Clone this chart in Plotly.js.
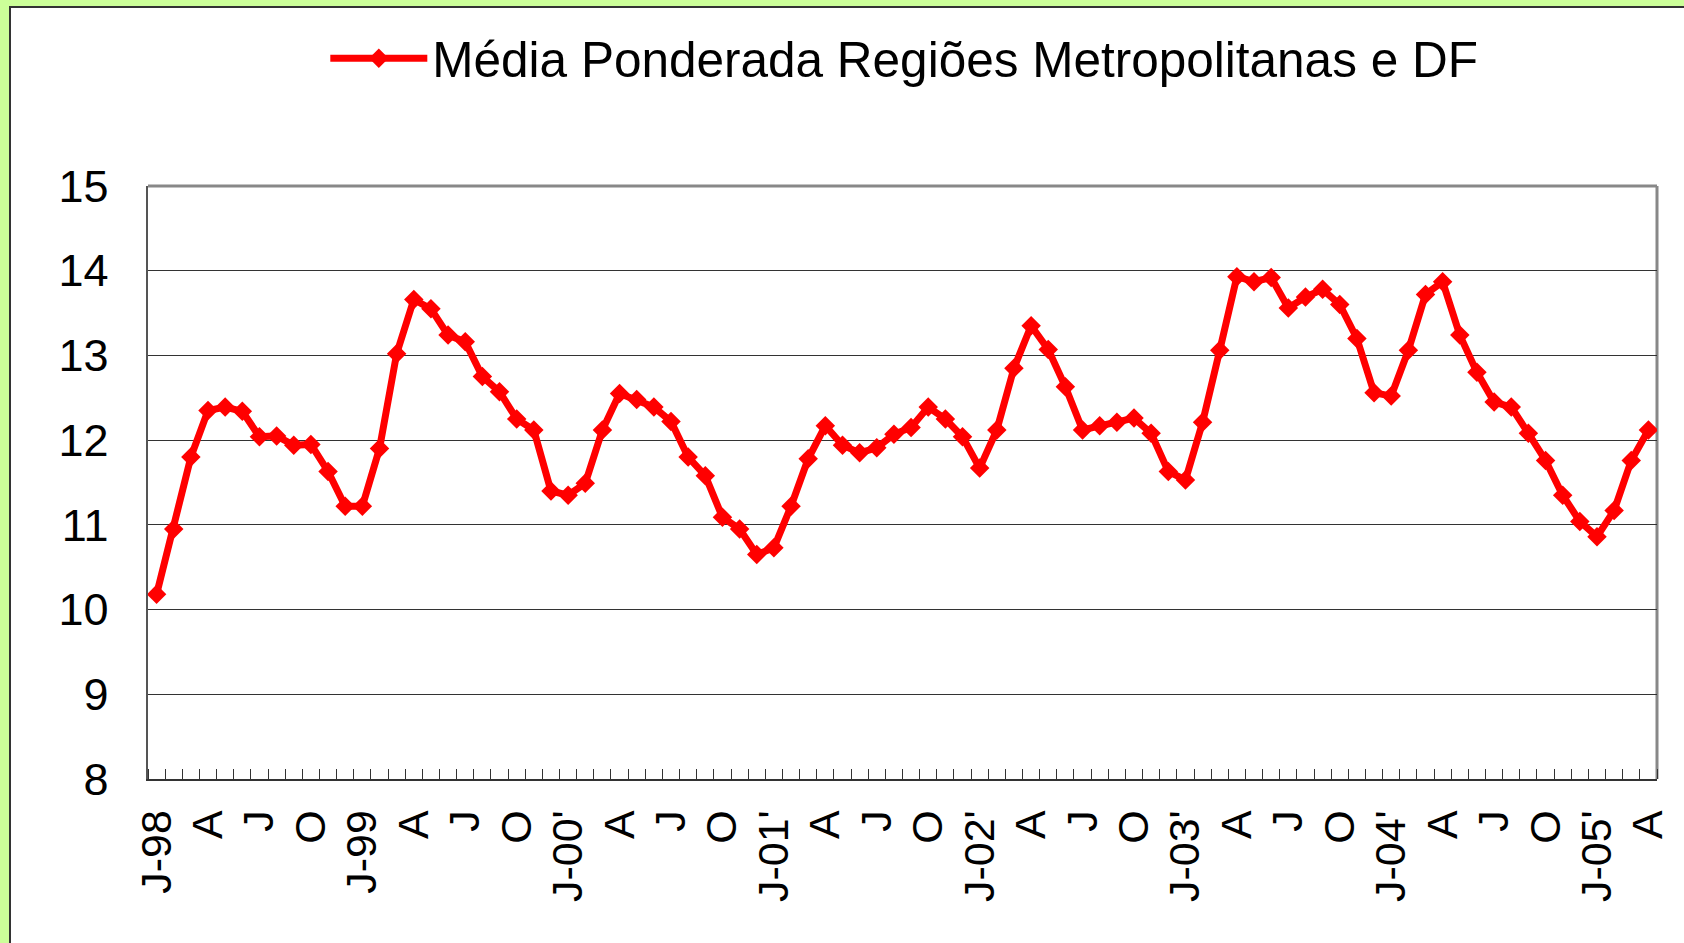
<!DOCTYPE html>
<html>
<head>
<meta charset="utf-8">
<script src="https://cdn.plot.ly/plotly-3.0.1.min.js"></script>
<style>
  html, body { margin: 0; padding: 0; background: #CCFF99; width: 1684px; height: 943px; overflow: hidden; }
  #frame { position: absolute; left: 9px; top: 6px; width: 1675px; height: 937px; box-sizing: border-box;
           background: #ffffff; border-left: 2px solid #333; border-top: 2px solid #333; }
  #chart { width: 1673px; height: 935px; }
</style>
</head>
<body>
<div id="frame"><div id="chart"></div></div>
<script>
// Series name
const seriesName = "Média Ponderada Regiões Metropolitanas e DF";

// Tick labels, one every 3 months (Jan, Apr, Jul, Oct), Jan-1998 .. Apr-2005
const tickLabels = ["J-98","A","J","O","J-99","A","J","O","J-00'","A","J","O",
                    "J-01'","A","J","O","J-02'","A","J","O","J-03'","A","J","O",
                    "J-04'","A","J","O","J-05'","A"];

// Monthly values, Jan-1998 .. Apr-2005 (88 months)
const values = [
  10.18,10.95,11.80,12.35,12.39,12.34,12.04,12.05,11.94,11.95,11.63,11.22, // 1998
  11.22,11.90,13.02,13.66,13.55,13.24,13.16,12.75,12.57,12.25,12.12,11.40, // 1999
  11.35,11.49,12.12,12.55,12.48,12.39,12.22,11.80,11.58,11.09,10.95,10.65, // 2000
  10.73,11.22,11.78,12.17,11.94,11.85,11.91,12.07,12.15,12.39,12.25,12.04, // 2001
  11.67,12.12,12.85,13.35,13.07,12.63,12.12,12.17,12.21,12.26,12.08,11.63, // 2002
  11.53,12.21,13.06,13.93,13.87,13.92,13.56,13.69,13.78,13.60,13.20,12.56, // 2003
  12.52,13.06,13.72,13.87,13.24,12.80,12.45,12.39,12.08,11.76,11.35,11.04, // 2004
  10.86,11.17,11.76,12.12                                                 // 2005
];

const monthIndex = values.map((_, i) => i);
const tickIndex = tickLabels.map((_, i) => i * 3);

const FONT = "Liberation Sans, Arial, Helvetica, sans-serif";

const trace = {
  x: monthIndex,
  y: values,
  type: "scatter",
  mode: "lines+markers",
  name: seriesName,
  line: { color: "#FF0000", width: 7 },
  marker: { symbol: "diamond", size: 15, color: "#FF0000" },
  hoverinfo: "y"
};

const layout = {
  width: 1673,
  height: 935,
  autosize: false,
  paper_bgcolor: "#ffffff",
  plot_bgcolor: "#ffffff",
  margin: { l: 137, r: 27, t: 173, b: 164, pad: 0 },
  font: { family: FONT, color: "#000000" },
  showlegend: true,
  legend: {
    orientation: "h",
    x: 0.1175, xanchor: "left",
    y: 1.215, yanchor: "middle",
    font: { family: FONT, size: 49.5, color: "#000000" },
    bgcolor: "rgba(0,0,0,0)",
    itemwidth: 97
  },
  xaxis: {
    type: "linear",
    range: [-0.5, 87.5],
    tickmode: "array",
    tickvals: tickIndex,
    ticktext: tickLabels,
    tickangle: -90,
    ticks: "",
    tickfont: { family: FONT, size: 43, color: "#000000" },
    ticklabelstandoff: 12,
    showgrid: false,
    zeroline: false,
    showline: true,
    linecolor: "#333333",
    linewidth: 2,
    fixedrange: true,
    minor: {
      tickmode: "linear",
      tick0: 0.5,
      dtick: 1,
      ticks: "inside",
      ticklen: 10,
      tickwidth: 1,
      tickcolor: "#333333",
      showgrid: false
    }
  },
  yaxis: {
    range: [8, 15],
    tickmode: "linear",
    tick0: 8,
    dtick: 1,
    ticks: "inside",
    ticklen: 16,
    tickwidth: 1,
    tickcolor: "#333333",
    tickfont: { family: FONT, size: 45, color: "#000000" },
    ticklabelstandoff: 28,
    showgrid: true,
    gridcolor: "#333333",
    gridwidth: 1,
    zeroline: false,
    showline: true,
    linecolor: "#555555",
    linewidth: 2.5,
    fixedrange: true
  },
  shapes: [
    { type: "line", xref: "paper", yref: "paper", x0: 0, x1: 1, y0: 1, y1: 1,
      line: { color: "#888888", width: 3 }, layer: "between" },
    { type: "line", xref: "paper", yref: "paper", x0: 1, x1: 1, y0: 0, y1: 1,
      line: { color: "#888888", width: 3 }, layer: "between" }
  ]
};

Plotly.newPlot("chart", [trace], layout, { displayModeBar: false, staticPlot: true });
</script>
</body>
</html>
